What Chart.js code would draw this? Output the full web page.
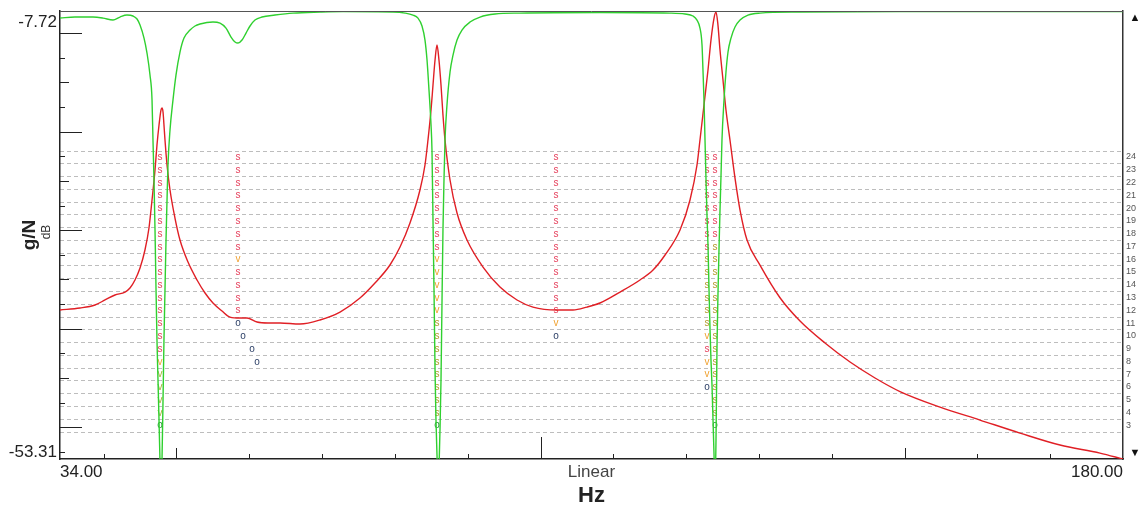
<!DOCTYPE html>
<html>
<head>
<meta charset="utf-8">
<script src="https://cdn.jsdelivr.net/npm/chart.js@4/dist/chart.umd.min.js"></script>
<style>
  html, body { margin: 0; padding: 0; background: #fff; }
  #wrap { width: 1142px; height: 507px; }
</style>
</head>
<body>
<div id="wrap"><canvas id="chart" width="1142" height="507"></canvas></div>
<script>
// green trace (coherence-like), Hz / dB
let greenHz = [34.00, 36.06, 38.53, 39.91, 41.28, 42.24, 43.20, 44.03, 44.58, 44.99, 45.54, 45.95, 46.36, 46.64, 46.77, 46.91, 47.05, 47.19, 47.32, 47.46, 47.60, 47.73, 47.87, 48.01, 48.15, 48.28, 48.42, 48.56, 48.70, 48.83, 49.11, 49.52, 49.93, 50.48, 51.03, 51.86, 52.54, 53.23, 55.01, 55.98, 56.80, 57.49, 58.04, 58.45, 59.00, 59.55, 60.10, 60.78, 61.74, 63.53, 66.00, 69.71, 72.87, 79.74, 81.39, 82.48, 83.17, 83.72, 84.13, 84.41, 84.68, 84.96, 85.09, 85.23, 85.37, 85.51, 85.64, 85.78, 85.92, 86.05, 86.19, 86.33, 86.47, 86.60, 86.74, 86.88, 87.15, 87.57, 87.98, 88.53, 89.21, 90.31, 91.69, 93.75, 97.18, 108.17, 117.78, 119.84, 120.94, 121.49, 121.90, 122.18, 122.31, 122.45, 122.59, 122.73, 122.86, 123.00, 123.14, 123.28, 123.41, 123.55, 123.69, 123.83, 123.96, 124.10, 124.24, 124.37, 124.51, 124.65, 124.79, 124.92, 125.20, 125.47, 125.75, 126.16, 126.71, 127.40, 128.49, 130.14, 135.64, 149.37, 163.11, 180.00];
let greenDb = [-7.30, -7.19, -7.19, -7.30, -7.51, -7.19, -6.98, -7.08, -7.40, -8.04, -9.42, -11.01, -13.34, -15.98, -20.23, -24.47, -29.77, -36.13, -41.44, -45.68, -49.92, -54.16, -57.34, -54.16, -47.80, -41.44, -36.13, -30.83, -26.59, -22.88, -19.17, -15.98, -13.34, -10.90, -9.42, -8.57, -8.14, -7.93, -7.72, -7.83, -8.36, -9.31, -9.84, -9.95, -9.63, -8.89, -8.14, -7.51, -7.19, -6.98, -6.77, -6.66, -6.61, -6.66, -6.77, -6.98, -7.30, -8.14, -9.63, -11.75, -14.93, -18.64, -21.29, -28.71, -36.13, -44.62, -49.92, -53.63, -57.34, -55.22, -50.98, -45.68, -37.19, -29.77, -24.47, -20.23, -16.52, -13.02, -11.22, -9.63, -8.57, -7.72, -7.19, -6.87, -6.77, -6.71, -6.77, -6.87, -7.08, -7.51, -8.36, -10.16, -12.81, -15.98, -20.23, -24.47, -28.18, -31.36, -36.13, -40.37, -43.56, -46.21, -49.92, -53.63, -57.34, -52.04, -41.97, -36.66, -31.89, -27.65, -23.94, -20.23, -15.98, -13.02, -10.90, -9.42, -8.25, -7.51, -6.98, -6.77, -6.66, -6.61, -6.61, -6.61];

// red trace (FRF magnitude), Hz / dB
let redHz = [34.00, 36.75, 38.81, 40.18, 41.55, 42.93, 43.61, 44.30, 44.99, 45.67, 46.22, 46.64, 47.05, 47.32, 47.60, 47.87, 48.01, 48.15, 48.28, 48.42, 48.70, 49.11, 49.79, 50.48, 51.58, 52.82, 53.92, 55.01, 56.25, 57.35, 58.72, 59.68, 61.06, 62.57, 64.22, 66.96, 69.71, 72.46, 75.20, 77.26, 79.32, 80.70, 82.07, 83.44, 84.13, 84.54, 84.96, 85.23, 85.51, 85.78, 86.05, 86.33, 86.60, 86.88, 87.57, 88.53, 89.90, 92.10, 94.43, 96.77, 98.96, 102.26, 104.46, 106.38, 108.17, 110.92, 113.66, 115.45, 117.10, 119.16, 120.53, 121.49, 121.90, 122.45, 123.00, 123.41, 123.83, 124.10, 124.37, 124.65, 125.06, 125.47, 126.02, 126.71, 127.40, 128.36, 130.14, 132.89, 135.64, 139.07, 142.51, 145.94, 149.37, 154.87, 160.36, 165.85, 171.35, 176.84, 180.00];
let redDb = [-38.25, -38.04, -37.72, -37.19, -36.66, -36.35, -35.92, -35.07, -33.80, -31.89, -29.56, -26.59, -23.41, -20.76, -18.64, -17.05, -16.84, -17.26, -18.64, -20.23, -22.88, -25.53, -28.50, -30.83, -33.17, -35.07, -36.45, -37.51, -38.36, -39.00, -39.10, -39.10, -39.53, -39.63, -39.63, -39.74, -39.31, -38.47, -36.98, -35.39, -33.48, -31.58, -29.03, -25.53, -22.88, -20.23, -17.05, -14.40, -11.75, -10.16, -11.75, -14.40, -17.58, -20.23, -24.47, -27.97, -30.83, -33.70, -35.82, -37.19, -37.94, -38.25, -38.25, -37.94, -37.51, -36.35, -35.07, -34.01, -32.42, -29.77, -26.59, -22.88, -20.23, -16.52, -12.81, -9.63, -7.30, -6.66, -8.04, -10.69, -13.87, -17.05, -20.23, -24.26, -27.65, -30.83, -33.49, -36.95, -39.42, -41.75, -43.77, -45.46, -46.90, -48.55, -49.92, -51.30, -52.57, -53.42, -54.05];

// axis labels
let xLabelTicks = [34, 180];
let yLabelTicks = [-53.31, -7.72];
let xMinorTicks = [40, 50, 60, 70, 80, 90, 100, 110, 120, 130, 140, 150, 160, 170];
let yMinorBase = -53.31;
let yMinorStep = 2.6135;
let yMinorCount = 18;

// run rows (dashed lines) on the right
let rowLines = [2, 3, 4, 5, 6, 7, 8, 9, 10, 11, 12, 13, 14, 15, 16, 17, 18, 19, 20, 21, 22, 23, 24];

// peak markers: one string per column, one char per row from 24 down to 3
let markerHz = [47.73, 58.45, 85.78, 102.12, 122.86, 123.96];
let markerRows = [
  "ssssssssssssssssvVVVVO",
  "ssssssssvssss.........",
  "ssssssssvvvvvSSSSSSSSO",
  "sssssssssssssvo.......",
  "ssssssssSSSSSSvsvvo...",
  "sssssssSSSSSSSSSSSSSSO"
];
let driftHz = [58.45, 59.13, 60.37, 61.06];
let driftRow = [11, 10, 9, 8];

let markerColors = {
  s: "#e6405c", S: "#b39a2c", v: "#f0a232", V: "#a8b43a", o: "#2c3f66", O: "#1f8f2f"
};

const FONT = "'Liberation Sans', Arial, sans-serif";

function toXY(xs, ys) {
  let pts = [];
  for (let i = 0; i < xs.length; i++) pts.push({x: xs[i], y: ys[i]});
  return pts;
}

const decorPlugin = {
  id: "decor",
  beforeDatasetsDraw(chart) {
    const ctx = chart.ctx;
    const xs = chart.scales.x;
    const rs = chart.scales.y2;
    ctx.save();
    ctx.font = "10px " + FONT;
    ctx.textAlign = "center";
    ctx.textBaseline = "middle";
    for (let c = 0; c < markerHz.length; c++) {
      let px = xs.getPixelForValue(markerHz[c]);
      let str = markerRows[c];
      for (let i = 0; i < str.length; i++) {
        let ch = str[i];
        if (ch === ".") continue;
        let row = 24 - i;
        ctx.fillStyle = markerColors[ch];
        ctx.fillText(ch.toLowerCase(), px, rs.getPixelForValue(row - 0.5));
      }
    }
    ctx.fillStyle = markerColors.o;
    for (let i = 0; i < driftHz.length; i++) {
      ctx.fillText("o", xs.getPixelForValue(driftHz[i]), rs.getPixelForValue(driftRow[i] - 0.5));
    }
    ctx.restore();
  },
  afterDraw(chart) {
    const ctx = chart.ctx;
    const a = chart.chartArea;
    const xs = chart.scales.x;
    const ys = chart.scales.y;
    ctx.save();
    // top border
    ctx.strokeStyle = "#555";
    ctx.lineWidth = 1;
    ctx.beginPath();
    ctx.moveTo(a.left, a.top + 0.5);
    ctx.lineTo(a.right, a.top + 0.5);
    ctx.stroke();

    // inner tick marks on left axis
    ctx.strokeStyle = "#222";
    for (let k = 0; k < yMinorCount; k++) {
      let py = Math.round(ys.getPixelForValue(yMinorBase + k * yMinorStep)) + 0.5;
      let len = k % 4 === 1 ? 22 : (k % 2 === 1 ? 9 : 5);
      ctx.beginPath();
      ctx.moveTo(a.left, py);
      ctx.lineTo(a.left + len, py);
      ctx.stroke();
    }
    // inner tick marks on bottom axis
    for (let v of xMinorTicks) {
      let px = Math.round(xs.getPixelForValue(v)) + 0.5;
      let len = v === 100 ? 22 : (v % 50 === 0 ? 11 : 5);
      ctx.beginPath();
      ctx.moveTo(px, a.bottom);
      ctx.lineTo(px, a.bottom - len);
      ctx.stroke();
    }

    // texts
    ctx.fillStyle = "#444";
    ctx.font = "17px " + FONT;
    ctx.textAlign = "center";
    ctx.textBaseline = "middle";
    ctx.fillText("Linear", (a.left + a.right) / 2, 472);

    ctx.save();
    ctx.translate(47, 232);
    ctx.rotate(-Math.PI / 2);
    ctx.font = "12px " + FONT;
    ctx.fillStyle = "#333";
    ctx.fillText("dB", 0, 0);
    ctx.restore();

    ctx.fillStyle = "#111";
    ctx.font = "11px " + FONT;
    ctx.fillText("\u25B2", 1135, 18);
    ctx.fillText("\u25BC", 1135, 453);
    ctx.restore();
  }
};

new Chart(document.getElementById("chart"), {
  type: "line",
  data: {
    datasets: [
      {
        label: "green",
        data: toXY(greenHz, greenDb),
        borderColor: "#2fd02f",
        borderWidth: 1.4,
        pointRadius: 0,
        cubicInterpolationMode: "monotone",
        yAxisID: "y"
      },
      {
        label: "red",
        data: toXY(redHz, redDb),
        borderColor: "#e01f25",
        borderWidth: 1.4,
        pointRadius: 0,
        cubicInterpolationMode: "monotone",
        yAxisID: "y"
      }
    ]
  },
  options: {
    responsive: false,
    animation: false,
    devicePixelRatio: 1,
    layout: { padding: { top: 11, left: 0, right: 0, bottom: 0 } },
    plugins: { legend: { display: false }, tooltip: { enabled: false } },
    scales: {
      x: {
        type: "linear",
        position: "bottom",
        min: 34,
        max: 180,
        afterBuildTicks: s => { s.ticks = xLabelTicks.map(v => ({value: v})); },
        afterFit: s => { s.height = 48; s.paddingLeft = 0; s.paddingRight = 0; },
        ticks: {
          align: "inner",
          autoSkip: false,
          maxRotation: 0,
          padding: 3,
          color: "#222",
          font: { size: 17, family: FONT },
          callback: v => Number(v).toFixed(2)
        },
        grid: { display: false, drawTicks: false },
        border: { display: true, color: "#222", width: 1.5 },
        title: {
          display: true,
          text: "Hz",
          color: "#222",
          font: { size: 22, weight: "bold", family: FONT, lineHeight: 1 },
          padding: { top: 0, bottom: 0 }
        }
      },
      y: {
        type: "linear",
        position: "left",
        min: -54.05,
        max: -6.55,
        afterBuildTicks: s => { s.ticks = yLabelTicks.map(v => ({value: v})); },
        afterFit: s => { s.width = 60; s.paddingTop = 0; s.paddingBottom = 0; },
        ticks: {
          padding: 3,
          color: "#222",
          font: { size: 17, family: FONT },
          callback: v => Number(v).toFixed(2)
        },
        grid: { display: false, drawTicks: false },
        border: { display: true, color: "#222", width: 1.5 },
        title: {
          display: true,
          text: "g/N",
          color: "#222",
          font: { size: 19, weight: "bold", family: FONT, lineHeight: 1 },
          padding: { top: 20, bottom: 0 }
        }
      },
      y2: {
        type: "linear",
        position: "right",
        min: -0.11,
        max: 34.96,
        afterBuildTicks: s => { s.ticks = rowLines.map(v => ({value: v})); },
        afterFit: s => { s.width = 19; s.paddingTop = 0; s.paddingBottom = 0; },
        ticks: {
          padding: 3,
          labelOffset: 6,
          color: "#555",
          font: { size: 9, family: FONT },
          callback: v => (v >= 3 ? String(v) : "")
        },
        grid: { display: true, drawOnChartArea: true, drawTicks: false, color: "#bdbdbd", lineWidth: 1 },
        border: { display: true, color: "#333", width: 1.5, dash: [4, 3] }
      }
    }
  },
  plugins: [decorPlugin]
});
</script>
</body>
</html>
